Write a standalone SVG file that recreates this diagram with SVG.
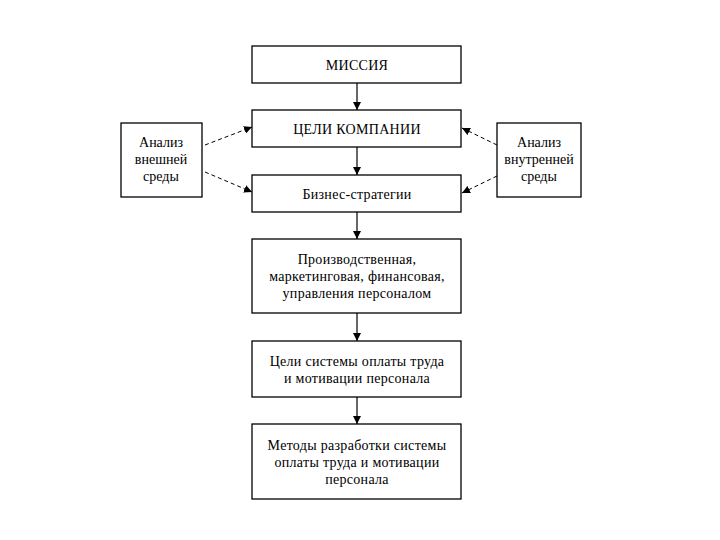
<svg xmlns="http://www.w3.org/2000/svg" width="720" height="540" viewBox="0 0 720 540">
<style>
.box{fill:#fff;stroke:#000;stroke-width:1.3}
.t{font-family:"Liberation Serif","Times New Roman",serif;font-size:14px;letter-spacing:0.3px;fill:#000;text-anchor:middle}
.s{font-size:14px;letter-spacing:0px}
.c{stroke:#000;stroke-width:1.2;fill:none}
.d{stroke:#000;stroke-width:1;fill:none;stroke-dasharray:4 3}
</style>
<defs>
<marker id="ah" viewBox="0 0 10 10" refX="10" refY="5" markerWidth="8" markerHeight="8" markerUnits="userSpaceOnUse" orient="auto"><path d="M0,0 L10,5 L0,10 z" fill="#000"/></marker>
</defs>
<rect width="720" height="540" fill="#fff"/>
<g id="connectors">
<line class="c" x1="357" y1="83" x2="357" y2="110" marker-end="url(#ah)"/>
<line class="c" x1="357" y1="147" x2="357" y2="175" marker-end="url(#ah)"/>
<line class="c" x1="357" y1="212" x2="357" y2="239" marker-end="url(#ah)"/>
<line class="c" x1="357" y1="313" x2="357" y2="341" marker-end="url(#ah)"/>
<line class="c" x1="357" y1="397" x2="357" y2="424" marker-end="url(#ah)"/>
<line class="d" x1="205" y1="145" x2="252" y2="127" marker-end="url(#ah)"/>
<line class="d" x1="205" y1="172" x2="252" y2="192" marker-end="url(#ah)"/>
<line class="d" x1="497" y1="145" x2="462" y2="128" marker-end="url(#ah)"/>
<line class="d" x1="497" y1="176" x2="462" y2="193" marker-end="url(#ah)"/>
</g>
<g id="mission"><rect class="box" x="252" y="46" width="209" height="37"/><text class="t" x="357" y="70">МИССИЯ</text></g>
<g id="goals"><rect class="box" x="252" y="110" width="209" height="37"/><text class="t" x="357" y="134">ЦЕЛИ КОМПАНИИ</text></g>
<g id="strategy"><rect class="box" x="252" y="175" width="209" height="37"/><text class="t" x="357" y="199">Бизнес-стратегии</text></g>
<g id="external"><rect class="box" x="121" y="123" width="81" height="74"/><text class="t s" x="161" y="147">Анализ</text><text class="t s" x="161" y="164">внешней</text><text class="t s" x="161" y="181">среды</text></g>
<g id="internal"><rect class="box" x="497" y="123" width="84" height="74"/><text class="t s" x="539" y="147">Анализ</text><text class="t s" x="539" y="164">внутренней</text><text class="t s" x="539" y="181">среды</text></g>
<g id="functional"><rect class="box" x="252" y="239" width="209" height="74"/><text class="t" x="357" y="264">Производственная,</text><text class="t" x="357" y="281">маркетинговая, финансовая,</text><text class="t" x="357" y="298">управления персоналом</text></g>
<g id="paygoals"><rect class="box" x="252" y="341" width="209" height="56"/><text class="t" x="357" y="366">Цели системы оплаты труда</text><text class="t" x="357" y="383">и мотивации персонала</text></g>
<g id="methods"><rect class="box" x="252" y="424" width="209" height="75"/><text class="t" x="357" y="450">Методы разработки системы</text><text class="t" x="357" y="467">оплаты труда и мотивации</text><text class="t" x="357" y="484">персонала</text></g>
</svg>
